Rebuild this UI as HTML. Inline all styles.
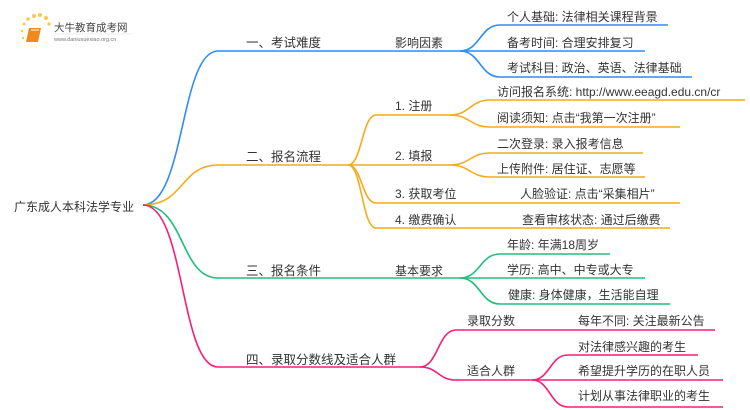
<!DOCTYPE html>
<html><head><meta charset="utf-8"><style>
html,body{margin:0;padding:0;background:#fff;width:750px;height:410px;overflow:hidden}
svg text{font-family:"Liberation Sans","Noto Sans CJK SC",sans-serif;fill:#333}
</style></head><body>
<svg width="750" height="410" viewBox="0 0 750 410" xmlns="http://www.w3.org/2000/svg">
<g>
<circle cx="24" cy="24" r="1.5" fill="#f9c84a"/><circle cx="28" cy="19" r="1.8" fill="#f9c84a"/><circle cx="34" cy="16" r="2" fill="#f9c84a"/><circle cx="40" cy="15" r="2" fill="#f9c84a"/><circle cx="46" cy="18" r="2" fill="#f9c84a"/><circle cx="49" cy="24" r="1.6" fill="#f9c84a"/><circle cx="22" cy="31" r="1.3" fill="#f9c84a"/><circle cx="23" cy="38" r="1.2" fill="#f9c84a"/>
<path d="M29 28 L41 28 L38 42 L26 42 Z" fill="#f08a1c"/>
<path d="M31 30 L39 30" stroke="#fff" stroke-width="1"/>
<text x="54" y="31" font-size="10.5" style="fill:#444">大牛教育成考网</text>
<text x="54" y="41" font-size="5.5" style="fill:#777">www.daniuxuexiao.org.cn</text>
<line x1="54" y1="34" x2="132" y2="34" stroke="#ddd" stroke-width="0.5"/>
</g>
<g fill="none" stroke-width="1.6">
<g stroke="#2f8cf5">
<path d="M143 205 C185 205 180 51 218 51 L348 51"/>
<path d="M348 51 L460 51"/>
<path d="M460 51 C480 51 480 25 500 25 L668 25"/>
<path d="M460 51 L645 51"/>
<path d="M460 51 C480 51 480 77 500 77 L692 77"/>
</g>
<g stroke="#f5ab1a">
<path d="M143 205 C185 205 180 165 218 165 L348 165"/>
<path d="M348 165 C362 165 362 115 376 115 L450 115"/>
<path d="M348 165 L450 165"/>
<path d="M348 165 C362 165 362 203 376 203 L680 203"/>
<path d="M348 165 C362 165 362 228 376 228 L670 228"/>
<path d="M450 115 C470 115 470 100 490 100 L745 100"/>
<path d="M450 115 C470 115 470 127 490 127 L680 127"/>
<path d="M450 165 C470 165 470 153 490 153 L643 153"/>
<path d="M450 165 C470 165 470 177 490 177 L645 177"/>
</g>
<g stroke="#1cc07a">
<path d="M143 205 C185 205 180 278 218 278 L460 278"/>
<path d="M460 278 C480 278 480 254 500 254 L610 254"/>
<path d="M460 278 L645 278"/>
<path d="M460 278 C480 278 480 304 500 304 L670 304"/>
</g>
<g stroke="#f51f7a">
<path d="M143 205 C185 205 180 367 218 367 L420 367"/>
<path d="M420 367 C438 367 438 330 456 330 L715 330"/>
<path d="M420 367 C438 367 438 380 456 380 L532 380"/>
<path d="M532 380 C550 380 550 355 568 355 L698 355"/>
<path d="M532 380 L723 380"/>
<path d="M532 380 C550 380 550 407 568 407 L723 407"/>
</g>
</g>
<g font-size="12">
<text x="14" y="211" font-size="12">广东成人本科法学专业</text>
<text x="246" y="47" font-size="12.5">一、考试难度</text>
<text x="246" y="161" font-size="12.5">二、报名流程</text>
<text x="246" y="275" font-size="12.5">三、报名条件</text>
<text x="246" y="364" font-size="12.5">四、录取分数线及适合人群</text>
<text x="395" y="47">影响因素</text>
<text x="507" y="21">个人基础: 法律相关课程背景</text>
<text x="507" y="47">备考时间: 合理安排复习</text>
<text x="507" y="72">考试科目: 政治、英语、法律基础</text>
<text x="395" y="110">1. 注册</text>
<text x="395" y="160">2. 填报</text>
<text x="395" y="198">3. 获取考位</text>
<text x="395" y="224">4. 缴费确认</text>
<text x="497" y="96">访问报名系统: http://www.eeagd.edu.cn/cr</text>
<text x="497" y="122">阅读须知: 点击“我第一次注册”</text>
<text x="497" y="148">二次登录: 录入报考信息</text>
<text x="497" y="173">上传附件: 居住证、志愿等</text>
<text x="520" y="198">人脸验证: 点击“采集相片”</text>
<text x="522" y="224">查看审核状态: 通过后缴费</text>
<text x="395" y="275">基本要求</text>
<text x="507" y="249">年龄: 年满18周岁</text>
<text x="507" y="274">学历: 高中、中专或大专</text>
<text x="508" y="299">健康: 身体健康，生活能自理</text>
<text x="467" y="325">录取分数</text>
<text x="578" y="325">每年不同: 关注最新公告</text>
<text x="467" y="375">适合人群</text>
<text x="578" y="351">对法律感兴趣的考生</text>
<text x="578" y="375">希望提升学历的在职人员</text>
<text x="578" y="400">计划从事法律职业的考生</text>
</g>
</svg>
</body></html>
